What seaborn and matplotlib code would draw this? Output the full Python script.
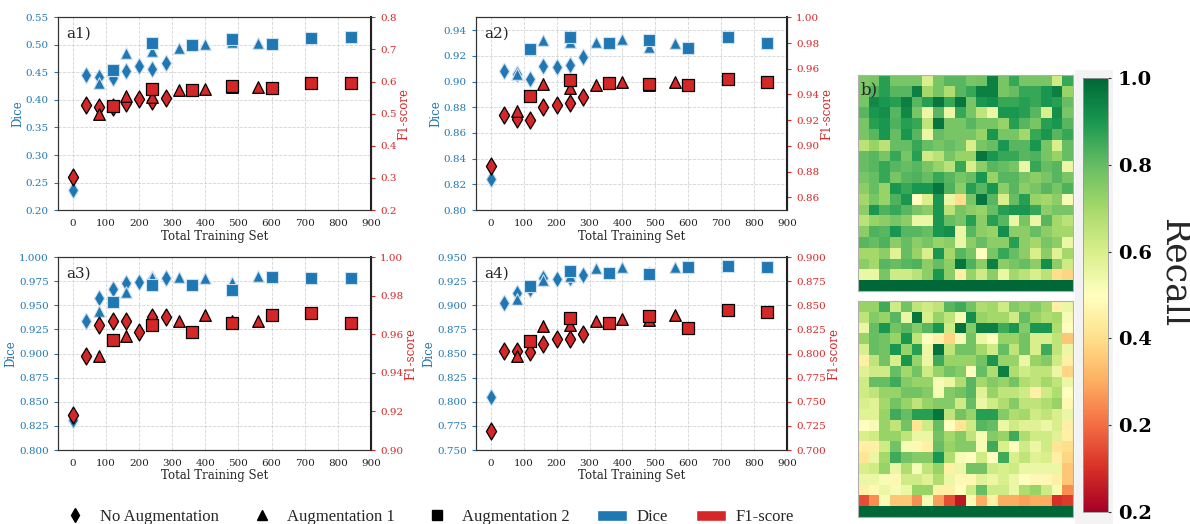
import numpy as np
import matplotlib
matplotlib.use("Agg")
import matplotlib.pyplot as plt
import seaborn as sns
from matplotlib.lines import Line2D
from matplotlib.patches import Patch, Rectangle

sns.set_style("white")
plt.rcParams['font.family'] = 'serif'
plt.rcParams['font.serif'] = ['DejaVu Serif']

# training set sizes
x_noaug = [0, 40, 80, 120, 160, 200, 240, 280]
x_aug1 = [80, 160, 240, 320, 400, 480, 560]
x_aug2 = [120, 240, 360, 480, 600, 720, 840]

# a1
a1_dice_noaug = [0.237, 0.446, 0.441, 0.440, 0.453, 0.461, 0.456, 0.467]
a1_dice_aug1 = [0.430, 0.485, 0.488, 0.495, 0.501, 0.505, 0.503]
a1_dice_aug2 = [0.454, 0.503, 0.499, 0.511, 0.502, 0.512, 0.515]
a1_f1_noaug = [0.304, 0.527, 0.522, 0.520, 0.534, 0.546, 0.540, 0.548]
a1_f1_aug1 = [0.499, 0.556, 0.553, 0.574, 0.578, 0.582, 0.584]
a1_f1_aug2 = [0.524, 0.576, 0.574, 0.587, 0.579, 0.597, 0.594]

# a2
a2_dice_noaug = [0.824, 0.908, 0.906, 0.902, 0.912, 0.911, 0.913, 0.919]
a2_dice_aug1 = [0.906, 0.932, 0.931, 0.931, 0.933, 0.927, 0.930]
a2_dice_aug2 = [0.925, 0.935, 0.930, 0.932, 0.926, 0.935, 0.930]
a2_f1_noaug = [0.884, 0.924, 0.921, 0.920, 0.930, 0.932, 0.933, 0.938]
a2_f1_aug1 = [0.927, 0.948, 0.945, 0.947, 0.950, 0.947, 0.950]
a2_f1_aug2 = [0.939, 0.951, 0.949, 0.948, 0.947, 0.952, 0.950]

# a3
a3_dice_noaug = [0.831, 0.934, 0.958, 0.967, 0.973, 0.974, 0.977, 0.978]
a3_dice_aug1 = [0.944, 0.964, 0.979, 0.979, 0.978, 0.974, 0.980]
a3_dice_aug2 = [0.954, 0.971, 0.971, 0.966, 0.979, 0.978, 0.978]
a3_f1_noaug = [0.918, 0.949, 0.965, 0.967, 0.967, 0.961, 0.969, 0.969]
a3_f1_aug1 = [0.949, 0.959, 0.965, 0.967, 0.970, 0.967, 0.967]
a3_f1_aug2 = [0.957, 0.965, 0.961, 0.966, 0.970, 0.971, 0.966]

# a4
a4_dice_noaug = [0.805, 0.902, 0.913, 0.917, 0.928, 0.927, 0.928, 0.932]
a4_dice_aug1 = [0.907, 0.926, 0.930, 0.939, 0.940, 0.935, 0.940]
a4_dice_aug2 = [0.920, 0.936, 0.934, 0.933, 0.940, 0.941, 0.940]
a4_f1_noaug = [0.720, 0.803, 0.803, 0.802, 0.810, 0.815, 0.815, 0.820]
a4_f1_aug1 = [0.798, 0.829, 0.830, 0.834, 0.836, 0.835, 0.840]
a4_f1_aug2 = [0.813, 0.837, 0.832, 0.839, 0.827, 0.845, 0.843]

# b) recall maps
recall_top = [
    [0.76, 0.77, 0.88, 0.77, 0.77, 0.77, 0.60, 0.77, 0.82, 0.82, 0.77, 0.78, 0.95, 0.77, 0.86, 0.77, 0.77, 0.77, 0.62, 0.86],
    [0.77, 0.83, 0.88, 0.82, 0.82, 0.95, 0.70, 0.77, 0.68, 0.82, 0.86, 0.95, 0.95, 0.77, 0.80, 0.86, 0.86, 0.90, 0.95, 0.72],
    [0.77, 0.93, 0.90, 0.88, 0.95, 0.82, 0.88, 0.97, 0.86, 0.97, 0.77, 0.90, 0.92, 0.86, 0.86, 0.88, 0.86, 0.90, 0.88, 0.80],
    [0.82, 0.90, 0.92, 0.82, 0.93, 0.77, 0.55, 0.82, 0.55, 0.86, 0.77, 0.65, 0.55, 0.90, 0.90, 0.88, 0.82, 0.60, 0.92, 0.77],
    [0.77, 0.88, 0.90, 0.83, 0.88, 0.86, 0.65, 0.97, 0.77, 0.77, 0.82, 0.77, 0.77, 0.72, 0.88, 0.82, 0.77, 0.88, 0.90, 0.82],
    [0.77, 0.82, 0.90, 0.80, 0.90, 0.82, 0.55, 0.80, 0.77, 0.77, 0.77, 0.72, 0.90, 0.77, 0.77, 0.70, 0.86, 0.90, 0.82, 0.86],
    [0.66, 0.72, 0.66, 0.80, 0.80, 0.86, 0.80, 0.77, 0.80, 0.77, 0.60, 0.77, 0.80, 0.90, 0.82, 0.82, 0.90, 0.77, 0.60, 0.80],
    [0.80, 0.82, 0.77, 0.86, 0.77, 0.88, 0.62, 0.66, 0.77, 0.72, 0.72, 0.97, 0.90, 0.86, 0.86, 0.82, 0.83, 0.77, 0.72, 0.80],
    [0.80, 0.82, 0.86, 0.82, 0.80, 0.82, 0.77, 0.72, 0.66, 0.86, 0.60, 0.74, 0.82, 0.80, 0.77, 0.55, 0.86, 0.80, 0.82, 0.55],
    [0.77, 0.80, 0.86, 0.77, 0.82, 0.83, 0.80, 0.86, 0.82, 0.77, 0.80, 0.90, 0.72, 0.82, 0.82, 0.77, 0.74, 0.77, 0.82, 0.77],
    [0.74, 0.80, 0.72, 0.90, 0.86, 0.90, 0.90, 0.97, 0.83, 0.74, 0.88, 0.82, 0.90, 0.74, 0.82, 0.74, 0.77, 0.82, 0.77, 0.83],
    [0.70, 0.77, 0.72, 0.83, 0.90, 0.50, 0.60, 0.90, 0.55, 0.40, 0.77, 0.97, 0.82, 0.60, 0.80, 0.88, 0.72, 0.70, 0.74, 0.52],
    [0.74, 0.90, 0.83, 0.86, 0.82, 0.77, 0.74, 0.90, 0.66, 0.77, 0.74, 0.72, 0.80, 0.88, 0.90, 0.90, 0.86, 0.74, 0.77, 0.77],
    [0.66, 0.72, 0.74, 0.77, 0.74, 0.55, 0.55, 0.90, 0.80, 0.77, 0.88, 0.74, 0.88, 0.82, 0.55, 0.77, 0.55, 0.82, 0.70, 0.66],
    [0.74, 0.83, 0.82, 0.90, 0.82, 0.82, 0.80, 0.90, 0.92, 0.55, 0.82, 0.74, 0.72, 0.92, 0.74, 0.74, 0.80, 0.74, 0.70, 0.70],
    [0.82, 0.80, 0.83, 0.74, 0.80, 0.74, 0.77, 0.72, 0.74, 0.55, 0.74, 0.80, 0.74, 0.74, 0.88, 0.74, 0.70, 0.77, 0.74, 0.55],
    [0.70, 0.70, 0.74, 0.58, 0.80, 0.72, 0.60, 0.90, 0.70, 0.82, 0.77, 0.50, 0.77, 0.86, 0.80, 0.74, 0.60, 0.74, 0.58, 0.70],
    [0.74, 0.70, 0.82, 0.80, 0.82, 0.83, 0.74, 0.80, 0.74, 0.97, 0.83, 0.74, 0.95, 0.74, 0.77, 0.80, 0.74, 0.92, 0.74, 0.62],
    [0.55, 0.55, 0.77, 0.62, 0.62, 0.66, 0.74, 0.90, 0.74, 0.45, 0.72, 0.62, 0.74, 0.55, 0.70, 0.66, 0.60, 0.66, 0.40, 0.38],
    [1.0, 1.0, 1.0, 1.0, 1.0, 1.0, 1.0, 1.0, 1.0, 1.0, 1.0, 1.0, 1.0, 1.0, 1.0, 1.0, 1.0, 1.0, 1.0, 1.0],
]
recall_bottom = [
    [0.72, 0.72, 0.85, 0.62, 0.78, 0.65, 0.62, 0.65, 0.82, 0.85, 0.78, 0.68, 0.70, 0.62, 0.75, 0.72, 0.75, 0.70, 0.45, 0.55],
    [0.65, 0.75, 0.72, 0.82, 0.55, 0.97, 0.60, 0.72, 0.65, 0.52, 0.92, 0.72, 0.70, 0.70, 0.62, 0.80, 0.72, 0.68, 0.70, 0.52],
    [0.55, 0.80, 0.90, 0.78, 0.82, 0.75, 0.82, 0.90, 0.62, 0.98, 0.75, 0.95, 0.95, 0.85, 0.90, 0.75, 0.90, 0.90, 0.68, 0.50],
    [0.72, 0.80, 0.78, 0.72, 0.90, 0.65, 0.50, 0.45, 0.38, 0.52, 0.78, 0.55, 0.50, 0.72, 0.72, 0.78, 0.60, 0.60, 0.65, 0.35],
    [0.60, 0.80, 0.78, 0.90, 0.72, 0.88, 0.55, 0.98, 0.65, 0.78, 0.78, 0.70, 0.62, 0.80, 0.65, 0.78, 0.60, 0.85, 0.65, 0.55],
    [0.45, 0.65, 0.78, 0.60, 0.90, 0.72, 0.55, 0.85, 0.72, 0.72, 0.72, 0.78, 0.90, 0.72, 0.72, 0.55, 0.72, 0.75, 0.62, 0.45],
    [0.58, 0.62, 0.62, 0.80, 0.70, 0.78, 0.62, 0.72, 0.78, 0.75, 0.50, 0.80, 0.68, 0.95, 0.68, 0.62, 0.65, 0.65, 0.55, 0.38],
    [0.62, 0.80, 0.80, 0.85, 0.75, 0.72, 0.72, 0.52, 0.55, 0.68, 0.82, 0.70, 0.75, 0.72, 0.78, 0.68, 0.65, 0.70, 0.65, 0.55],
    [0.62, 0.65, 0.72, 0.72, 0.78, 0.78, 0.75, 0.52, 0.75, 0.78, 0.82, 0.58, 0.72, 0.65, 0.65, 0.62, 0.45, 0.62, 0.68, 0.50],
    [0.60, 0.58, 0.70, 0.78, 0.72, 0.65, 0.72, 0.75, 0.75, 0.62, 0.80, 0.55, 0.62, 0.68, 0.75, 0.65, 0.65, 0.68, 0.72, 0.48],
    [0.58, 0.58, 0.72, 0.85, 0.80, 0.88, 0.88, 0.97, 0.65, 0.78, 0.72, 0.88, 0.88, 0.75, 0.68, 0.70, 0.62, 0.65, 0.60, 0.55],
    [0.50, 0.52, 0.72, 0.65, 0.78, 0.42, 0.62, 0.80, 0.50, 0.42, 0.62, 0.82, 0.80, 0.55, 0.62, 0.58, 0.58, 0.55, 0.60, 0.45],
    [0.60, 0.62, 0.72, 0.72, 0.65, 0.55, 0.55, 0.78, 0.70, 0.75, 0.65, 0.52, 0.75, 0.72, 0.85, 0.68, 0.62, 0.62, 0.58, 0.45],
    [0.45, 0.45, 0.62, 0.78, 0.52, 0.48, 0.45, 0.80, 0.72, 0.75, 0.75, 0.52, 0.85, 0.60, 0.50, 0.62, 0.55, 0.62, 0.42, 0.40],
    [0.42, 0.55, 0.70, 0.85, 0.78, 0.75, 0.75, 0.90, 0.68, 0.52, 0.50, 0.62, 0.50, 0.85, 0.60, 0.65, 0.58, 0.60, 0.45, 0.38],
    [0.60, 0.62, 0.72, 0.55, 0.68, 0.52, 0.65, 0.72, 0.45, 0.55, 0.78, 0.78, 0.62, 0.60, 0.62, 0.55, 0.55, 0.55, 0.55, 0.35],
    [0.55, 0.55, 0.52, 0.48, 0.62, 0.62, 0.58, 0.68, 0.55, 0.48, 0.48, 0.58, 0.55, 0.60, 0.55, 0.50, 0.48, 0.48, 0.45, 0.35],
    [0.45, 0.48, 0.55, 0.52, 0.55, 0.72, 0.72, 0.45, 0.45, 0.50, 0.62, 0.80, 0.62, 0.62, 0.55, 0.68, 0.72, 0.62, 0.52, 0.25],
    [0.15, 0.25, 0.52, 0.35, 0.35, 0.25, 0.52, 0.28, 0.15, 0.05, 0.48, 0.30, 0.45, 0.30, 0.30, 0.28, 0.30, 0.30, 0.10, 0.12],
    [1.0, 1.0, 1.0, 1.0, 1.0, 1.0, 1.0, 1.0, 1.0, 1.0, 1.0, 1.0, 1.0, 1.0, 1.0, 1.0, 1.0, 1.0, 1.0, 1.0],
]

cbar_ticks = [0.0, 0.2, 0.4, 0.6, 0.8, 1.0]
cbar_labels = ['0.2', '0.2', '0.4', '0.6', '0.8', '1.0']

blue = '#1f77b4'
red = '#d62728'

panels = [
    ('a1)', [0.0487, 0.599, 0.263, 0.368],
     (a1_dice_noaug, a1_dice_aug1, a1_dice_aug2), (a1_f1_noaug, a1_f1_aug1, a1_f1_aug2),
     (0.20, 0.55), np.arange(0.20, 0.551, 0.05), '{:.2f}',
     (0.2, 0.8), np.arange(0.2, 0.801, 0.1), '{:.1f}'),
    ('a2)', [0.400, 0.599, 0.2613, 0.368],
     (a2_dice_noaug, a2_dice_aug1, a2_dice_aug2), (a2_f1_noaug, a2_f1_aug1, a2_f1_aug2),
     (0.80, 0.95), np.arange(0.80, 0.941, 0.02), '{:.2f}',
     (0.85, 1.00), np.arange(0.86, 1.001, 0.02), '{:.2f}'),
    ('a3)', [0.0487, 0.1412, 0.263, 0.368],
     (a3_dice_noaug, a3_dice_aug1, a3_dice_aug2), (a3_f1_noaug, a3_f1_aug1, a3_f1_aug2),
     (0.80, 1.00), np.arange(0.80, 1.001, 0.025), '{:.3f}',
     (0.90, 1.00), np.arange(0.90, 1.001, 0.02), '{:.2f}'),
    ('a4)', [0.400, 0.1412, 0.2613, 0.368],
     (a4_dice_noaug, a4_dice_aug1, a4_dice_aug2), (a4_f1_noaug, a4_f1_aug1, a4_f1_aug2),
     (0.75, 0.95), np.arange(0.75, 0.951, 0.025), '{:.3f}',
     (0.70, 0.90), np.arange(0.70, 0.901, 0.025), '{:.3f}'),
]

xs = (x_noaug, x_aug1, x_aug2)
markers = ('d', '^', 's')
sizes = (75, 70, 75)

fig = plt.figure(figsize=(11.9, 5.24), dpi=100)

for (name, rect, dice, f1, ylim1, yt1, fmt1, ylim2, yt2, fmt2) in panels:
    ax = fig.add_axes(rect)
    ax2 = ax.twinx()
    for x, yv, m, s in zip(xs, dice, markers, sizes):
        sns.scatterplot(x=x, y=yv, marker=m, s=s, color=blue, edgecolor='#cfe0ee',
                        linewidth=0.8, ax=ax, zorder=3)
    for x, yv, m, s in zip(xs, f1, markers, sizes):
        sns.scatterplot(x=x, y=yv, marker=m, s=s, color=red, edgecolor='black',
                        linewidth=0.9, ax=ax2, zorder=3)
    ax.set_xlim(-45, 900)
    ax.set_xticks(range(0, 901, 100))
    ax.set_ylim(*ylim1)
    ax.set_yticks(yt1)
    ax.set_yticklabels([fmt1.format(v) for v in yt1])
    ax2.set_ylim(*ylim2)
    ax2.set_yticks(yt2)
    ax2.set_yticklabels([fmt2.format(v) for v in yt2])
    ax.tick_params(axis='y', colors=blue, labelsize=7.5, length=3)
    ax.tick_params(axis='x', colors='#222222', labelsize=7.5, length=3)
    ax2.tick_params(axis='y', colors=red, labelsize=7.5, length=3)
    ax.grid(True, linestyle='--', color='#c8c8c8', linewidth=0.6, alpha=0.8)
    ax.set_axisbelow(True)
    ax.set_xlabel('Total Training Set', fontsize=8.5, labelpad=1)
    ax.set_ylabel('Dice', color=blue, fontsize=8.5, labelpad=1)
    ax2.set_ylabel('F1-score', color=red, fontsize=8.5, labelpad=1)
    for sp in ax.spines.values():
        sp.set_color('#333333')
    for sp in ax2.spines.values():
        sp.set_color('#333333')
    ax2.spines['right'].set_color('#222222')
    ax2.spines['right'].set_linewidth(1.5)
    ax.text(0.025, 0.915, name, transform=ax.transAxes, fontsize=11, va='center')

# heatmaps
hm_w = 0.1807
hm_h = 0.4122
ax_top = fig.add_axes([0.721, 0.4447, hm_w, hm_h])
ax_bot = fig.add_axes([0.721, 0.0134, hm_w, hm_h])
for axh, mat in ((ax_top, recall_top), (ax_bot, recall_bottom)):
    sns.heatmap(np.array(mat), cmap='RdYlGn', vmin=0, vmax=1, cbar=False,
                linewidths=0, square=False,
                xticklabels=False, yticklabels=False, ax=axh)
    for sp in axh.spines.values():
        sp.set_visible(True)
        sp.set_color('#b0b0b0')
        sp.set_linewidth(0.8)
ax_top.text(0.01, 0.97, 'b)', transform=ax_top.transAxes, fontsize=12,
            va='top', ha='left')

# colorbar with light backdrop
fig.patches.append(Rectangle((0.9035, 0.0), 0.0315, 0.866, transform=fig.transFigure,
                             facecolor='#f3f3f3', edgecolor='none', zorder=-5))
cax = fig.add_axes([0.9101, 0.0229, 0.021, 0.828])
cax.set_zorder(5)
cb = fig.colorbar(ax_top.collections[0], cax=cax)
cb.set_ticks(cbar_ticks)
cb.set_ticklabels(cbar_labels)
cb.outline.set_edgecolor('#999999')
cb.outline.set_linewidth(0.6)
cax.tick_params(labelsize=14, length=2, colors='#333333', pad=5)
for t in cax.get_yticklabels():
    t.set_fontweight('bold')
    t.set_color('black')
fig.text(0.987, 0.48, 'Recall', rotation=270, fontsize=25, ha='center', va='center')

# legend
handles = [
    Line2D([], [], marker='d', color='black', linestyle='none', markersize=7),
    Line2D([], [], marker='^', color='black', linestyle='none', markersize=7),
    Line2D([], [], marker='s', color='black', linestyle='none', markersize=7),
    Patch(facecolor=blue),
    Patch(facecolor=red),
]
labels = ['No Augmentation', 'Augmentation 1', 'Augmentation 2', 'Dice', 'F1-score']
fig.legend(handles, labels, loc='center', bbox_to_anchor=(0.359, 0.013), ncol=5,
           frameon=False, prop={'family': 'Liberation Serif', 'size': 12},
           columnspacing=1.65, handlelength=1.8, handletextpad=0.6)

fig.savefig('out.png', dpi=100)
